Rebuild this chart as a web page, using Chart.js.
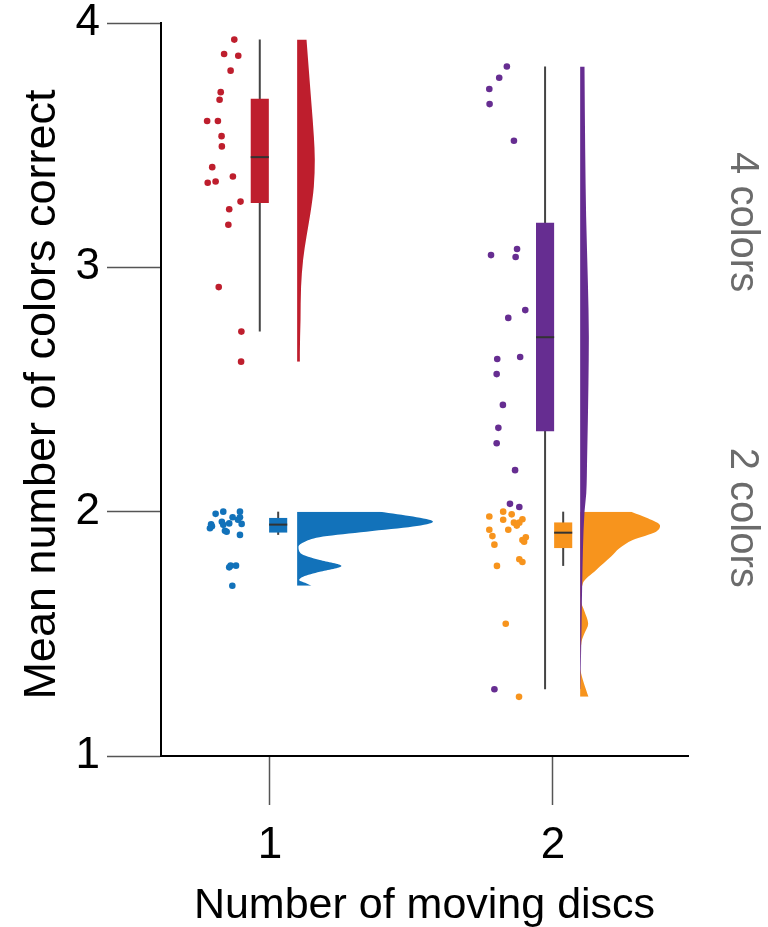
<!DOCTYPE html>
<html>
<head>
<meta charset="utf-8">
<title>Mean number of colors correct</title>
<script src="https://cdn.jsdelivr.net/npm/chart.js@4.4.1/dist/chart.umd.min.js"></script>
<style>
  html, body { margin: 0; padding: 0; background: #ffffff; }
  #wrap { width: 768px; height: 927px; position: relative; }
</style>
</head>
<body>
<div id="wrap"><canvas id="chart" width="768" height="927"></canvas></div>
<script>
// ---- data ---------------------------------------------------------------
const discCategories = [1, 2];
const yTickValues = [1, 2, 3, 4];
const xTitle = 'Number of moving discs';
const yTitle = 'Mean number of colors correct';
const panelLabels = ['4 colors', '2 colors'];
const panelLabelCenters = [3.185, 1.975];

// participant means, 4 colors / 1 disc
const fourColorsOneDisc = [3.932, 3.873, 3.866, 3.805, 3.717, 3.686, 3.599, 3.599, 3.537, 3.495,
                           3.410, 3.346, 3.351, 3.372, 3.269, 3.238, 3.174, 2.919, 2.737, 2.614];
const fourColorsOneDiscJitter = [-0.126, -0.162, -0.112, -0.139, -0.174, -0.178, -0.222, -0.184, -0.171, -0.170,
                                 -0.204, -0.220, -0.192, -0.131, -0.104, -0.144, -0.147, -0.181, -0.101, -0.102];
// participant means, 2 colors / 1 disc
const twoColorsOneDisc = [1.991, 2.000, 2.000, 1.977, 1.977, 1.959, 1.952, 1.950, 1.948, 1.946,
                          1.932, 1.922, 1.918, 1.905, 1.779, 1.779, 1.772, 1.697, 1.967, 1.940];
const twoColorsOneDiscJitter = [-0.192, -0.165, -0.106, -0.132, -0.106, -0.170, -0.144, -0.100, -0.208, -0.165,
                                -0.212, -0.159, -0.153, -0.106, -0.139, -0.120, -0.144, -0.133, -0.113, -0.205];
// participant means, 4 colors / 2 discs
const fourColorsTwoDiscs = [3.822, 3.776, 3.730, 3.668, 3.518, 3.050, 3.075, 3.042, 2.825, 2.793,
                            2.625, 2.633, 2.563, 2.437, 2.343, 2.280, 2.170, 2.032, 2.019, 1.273];
const fourColorsTwoDiscsJitter = [-0.163, -0.190, -0.225, -0.224, -0.138, -0.219, -0.127, -0.132, -0.098, -0.158,
                                  -0.197, -0.116, -0.199, -0.177, -0.193, -0.199, -0.134, -0.152, -0.119, -0.207];
// participant means, 2 colors / 2 discs
const twoColorsTwoDiscs = [2.000, 1.989, 1.980, 1.967, 1.955, 1.969, 1.955, 1.943, 1.926, 1.926,
                           1.900, 1.895, 1.884, 1.877, 1.865, 1.805, 1.794, 1.778, 1.541, 1.242];
const twoColorsTwoDiscsJitter = [-0.176, -0.146, -0.225, -0.176, -0.138, -0.108, -0.119, -0.128, -0.225, -0.158,
                                 -0.214, -0.096, -0.108, -0.102, -0.207, -0.119, -0.108, -0.198, -0.167, -0.120];

// box summaries: [lower whisker, Q1, median, Q3, upper whisker]
const fourColorsOneDiscBox  = [2.737, 3.263, 3.451, 3.691, 3.932];
const twoColorsOneDiscBox   = [1.905, 1.914, 1.947, 1.975, 2.000];
const fourColorsTwoDiscsBox = [1.273, 2.328, 2.714, 3.183, 3.822];
const twoColorsTwoDiscsBox  = [1.778, 1.850, 1.914, 1.957, 2.000];

// kernel density profiles (relative density at each level)
const fourColorsOneDiscLevels  = [2.614, 2.649, 2.785, 2.921, 3.031, 3.126, 3.222, 3.331, 3.440, 3.536, 3.672, 3.809, 3.932];
const fourColorsOneDiscDensity = [0.020, 0.020, 0.025, 0.029, 0.044, 0.069, 0.098, 0.123, 0.130, 0.123, 0.105, 0.086, 0.069];
const twoColorsOneDiscLevels  = [1.697, 1.707, 1.720, 1.734, 1.754, 1.778, 1.802, 1.830, 1.857, 1.877, 1.898, 1.918, 1.939, 1.959, 1.980, 2.000];
const twoColorsOneDiscDensity = [0.105, 0.066, 0.015, 0.044, 0.167, 0.326, 0.167, 0.025, 0.010, 0.057, 0.191, 0.510, 0.853, 1.000, 0.853, 0.608];
const fourColorsTwoDiscsLevels  = [1.273, 1.529, 1.707, 2.000, 2.075, 2.212, 2.526, 2.714, 2.935, 3.208, 3.481, 3.822];
const fourColorsTwoDiscsDensity = [0.002, 0.010, 0.015, 0.032, 0.045, 0.051, 0.061, 0.064, 0.057, 0.044, 0.037, 0.032];
const twoColorsTwoDiscsLevels  = [1.242, 1.270, 1.311, 1.365, 1.468, 1.502, 1.541, 1.591, 1.638, 1.707, 1.761, 1.816, 1.850, 1.884, 1.918, 1.943, 1.973, 2.000];
const twoColorsTwoDiscsDensity = [0.061, 0.044, 0.020, 0.000, 0.010, 0.032, 0.059, 0.032, 0.005, 0.020, 0.118, 0.228, 0.289, 0.387, 0.559, 0.588, 0.498, 0.375];

// ---- layout & style -----------------------------------------------------
const FONT = '"Liberation Sans", Arial, Helvetica, sans-serif';
const X_MIN = 0.615, X_MAX = 2.477;
const BOX_HALF = 0.032;        // half box width, x units
const VIOLIN_GAP = 0.096;      // distance from category to violin base
const VIOLIN_SCALE = 0.48;     // x units per density unit

const groups = [
  { disc: 1, color: '#BE1E2D', values: fourColorsOneDisc, jitter: fourColorsOneDiscJitter,
    box: fourColorsOneDiscBox, levels: fourColorsOneDiscLevels, density: fourColorsOneDiscDensity,
    dodge: -0.036, pointOrder: 1, violinOrder: 5 },
  { disc: 1, color: '#1272BA', values: twoColorsOneDisc, jitter: twoColorsOneDiscJitter,
    box: twoColorsOneDiscBox, levels: twoColorsOneDiscLevels, density: twoColorsOneDiscDensity,
    dodge: 0.029, pointOrder: 1, violinOrder: 5 },
  { disc: 2, color: '#662D91', values: fourColorsTwoDiscs, jitter: fourColorsTwoDiscsJitter,
    box: fourColorsTwoDiscsBox, levels: fourColorsTwoDiscsLevels, density: fourColorsTwoDiscsDensity,
    dodge: -0.028, pointOrder: 0, violinOrder: 5 },
  { disc: 2, color: '#F7941D', values: twoColorsTwoDiscs, jitter: twoColorsTwoDiscsJitter,
    box: twoColorsTwoDiscsBox, levels: twoColorsTwoDiscsLevels, density: twoColorsTwoDiscsDensity,
    dodge: 0.036, pointOrder: 1, violinOrder: 6 }
];

const datasets = [];
groups.forEach(g => {
  const c = g.disc + g.dodge;
  const [lo, q1, med, q3, hi] = g.box;
  const base = g.disc + VIOLIN_GAP;

  // jittered raw points
  datasets.push({
    type: 'scatter',
    data: g.values.map((v, i) => ({ x: g.disc + g.jitter[i], y: v })),
    backgroundColor: g.color, pointRadius: 3.3, pointBorderWidth: 0,
    pointHoverRadius: 3.3, order: g.pointOrder
  });
  // median bar
  datasets.push({
    type: 'line',
    data: [{ x: c - BOX_HALF, y: med }, { x: c + BOX_HALF, y: med }],
    borderColor: '#333333', borderWidth: 2, pointRadius: 0, fill: false, order: 2
  });
  // box from Q1 to Q3
  datasets.push({
    type: 'line', indexAxis: 'y',
    data: [{ x: c + BOX_HALF, y: q1 }, { x: c + BOX_HALF, y: q3 }],
    borderWidth: 0, backgroundColor: g.color, pointRadius: 0,
    fill: { value: c - BOX_HALF }, order: 3
  });
  // whiskers
  datasets.push({
    type: 'line',
    data: [{ x: c, y: lo }, { x: c, y: hi }],
    borderColor: '#444444', borderWidth: 2, pointRadius: 0, fill: false, order: 4
  });
  // half violin
  datasets.push({
    type: 'line', indexAxis: 'y',
    data: g.levels.map((v, i) => ({ x: base + g.density[i] * VIOLIN_SCALE, y: v })),
    borderWidth: 0, backgroundColor: g.color, pointRadius: 0,
    cubicInterpolationMode: 'monotone',
    fill: { value: base }, order: g.violinOrder
  });
});

// axis titles and panel labels
const textPlugin = {
  id: 'textPlugin',
  afterDraw(chart) {
    const ctx = chart.ctx;
    const area = chart.chartArea;
    const ys = chart.scales.y;
    ctx.save();
    ctx.fillStyle = '#000000';
    ctx.textAlign = 'center';
    ctx.textBaseline = 'alphabetic';

    ctx.font = '45px ' + FONT;
    ctx.save();
    ctx.translate(55, (area.top + area.bottom) / 2 + 5);
    ctx.rotate(-Math.PI / 2);
    ctx.fillText(yTitle, 0, 0);
    ctx.restore();

    ctx.font = '43px ' + FONT;
    ctx.fillText(xTitle, (area.left + area.right) / 2, 918);

    ctx.fillStyle = '#6b6b6b';
    ctx.font = '40px ' + FONT;
    panelLabels.forEach((t, i) => {
      ctx.save();
      ctx.translate(731, ys.getPixelForValue(panelLabelCenters[i]));
      ctx.rotate(Math.PI / 2);
      ctx.fillText(t, 0, 0);
      ctx.restore();
    });
    ctx.restore();
  }
};

new Chart(document.getElementById('chart'), {
  type: 'scatter',
  data: { datasets },
  options: {
    responsive: false,
    devicePixelRatio: 1,
    animation: false,
    events: [],
    layout: { padding: { top: 23, right: 80, left: 0, bottom: 0 } },
    plugins: { legend: { display: false }, tooltip: { enabled: false } },
    scales: {
      x: {
        type: 'linear', min: X_MIN, max: X_MAX, offset: false,
        afterBuildTicks: s => { s.ticks = discCategories.map(v => ({ value: v })); },
        afterFit: s => { s.height = 171; },
        ticks: { color: '#000000', padding: 19, font: { family: FONT, size: 44, lineHeight: 1 },
                 callback: v => String(v), maxRotation: 0 },
        grid: { display: true, drawOnChartArea: false, drawTicks: true, tickLength: 49,
                tickColor: '#555555', tickWidth: 1.5, offset: false },
        border: { display: true, color: '#000000', width: 2 }
      },
      y: {
        type: 'linear', min: 1, max: 4,
        afterBuildTicks: s => { s.ticks = yTickValues.map(v => ({ value: v })); },
        afterFit: s => { s.width = 161; s.paddingTop = 0; s.paddingBottom = 0; },
        ticks: { color: '#000000', padding: 7, font: { family: FONT, size: 44, lineHeight: 0.5 },
                 callback: v => String(v) },
        grid: { display: true, drawOnChartArea: false, drawTicks: true, tickLength: 54,
                tickColor: '#555555', tickWidth: 1.5 },
        border: { display: true, color: '#000000', width: 2 }
      }
    }
  },
  plugins: [textPlugin]
});
</script>
</body>
</html>
